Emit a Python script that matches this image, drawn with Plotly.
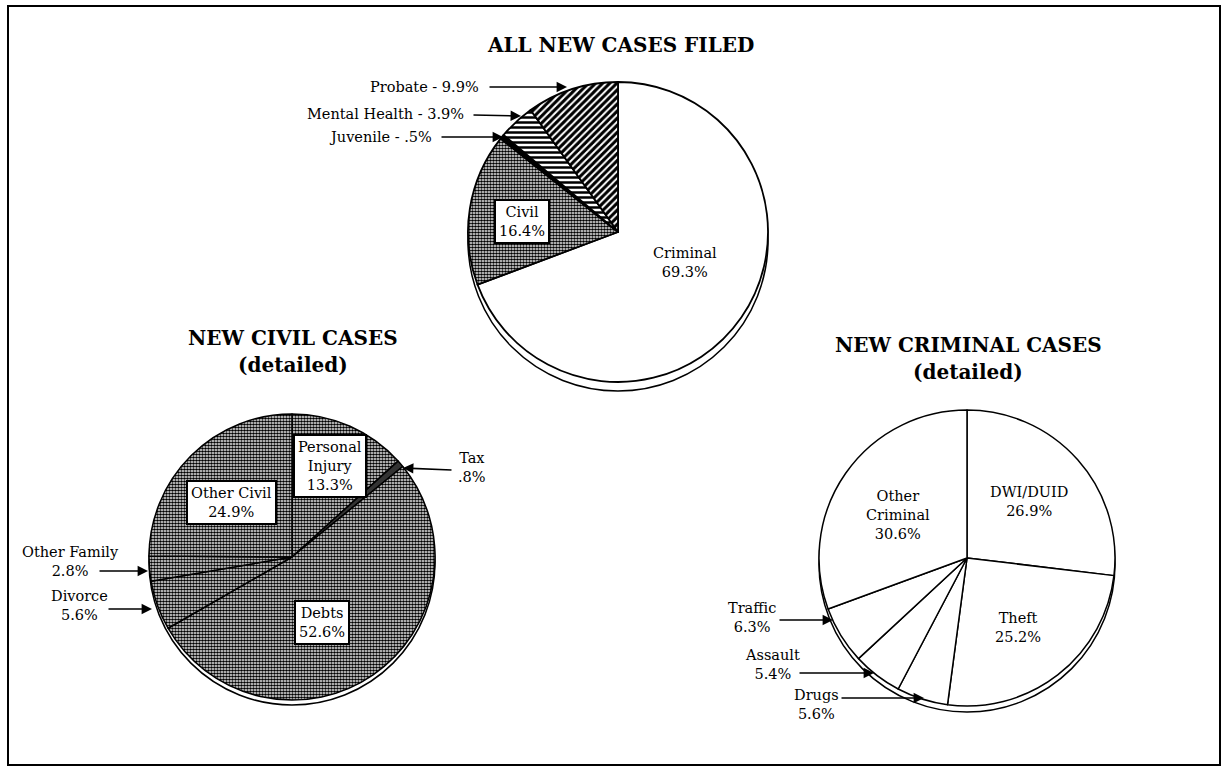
import plotly.graph_objects as go

W, H = 1227, 771

# ---- data ----
all_labels = ["Criminal", "Civil", "Juvenile", "Mental Health", "Probate"]
all_values = [69.3, 16.4, 0.5, 3.9, 9.9]

civil_labels = ["Personal Injury", "Tax", "Debts", "Divorce", "Other Family", "Other Civil"]
civil_values = [13.3, 0.8, 52.6, 5.6, 2.8, 24.9]

crim_labels = ["DWI/DUID", "Theft", "Drugs", "Assault", "Traffic", "Other Criminal"]
crim_values = [26.9, 25.2, 5.6, 5.4, 6.3, 30.6]


def px(x):
    return x / W


def py(y):
    return 1 - y / H


def dom(cx, cy, r, dy=0):
    return dict(x=[px(cx - r), px(cx + r)], y=[py(cy + r + dy), py(cy - r + dy)])


SERIF = "DejaVu Serif"
fig = go.Figure()

pies = [
    (618, 232, 150, 9),
    (292, 557, 143, 5),
    (967, 558, 148, 6),
]

# shadow rims
for cx, cy, r, off in pies:
    fig.add_trace(go.Pie(values=[1], labels=["rim"], domain=dom(cx, cy, r, off),
                         marker=dict(colors=["white"], line=dict(color="black", width=1.5)),
                         textinfo="none", hoverinfo="skip", sort=False, showlegend=False))

CHECK = dict(fgcolor="black", bgcolor="white", size=3, solidity=0.65)

fig.add_trace(go.Pie(
    labels=all_labels, values=all_values, domain=dom(618, 232, 150),
    sort=False, direction="clockwise", rotation=0, textinfo="none", showlegend=False,
    marker=dict(colors=["white", "white", "black", "white", "white"],
                line=dict(color="black", width=1.8),
                pattern=dict(shape=["", ".", "", "-", "/"], fgcolor="black",
                             size=[4, 3, 4, 5, 5], solidity=[0.5, 0.65, 0.5, 0.5, 0.6])),
))

fig.add_trace(go.Pie(
    labels=civil_labels, values=civil_values, domain=dom(292, 557, 143),
    sort=False, direction="clockwise", rotation=0, textinfo="none", showlegend=False,
    marker=dict(colors=["white", "#333333", "white", "white", "white", "white"],
                line=dict(color="black", width=1.5),
                pattern=dict(shape=[".", "", ".", ".", ".", "."], **CHECK)),
))

fig.add_trace(go.Pie(
    labels=crim_labels, values=crim_values, domain=dom(967, 558, 148),
    sort=False, direction="clockwise", rotation=0, textinfo="none", showlegend=False,
    marker=dict(colors=["white"] * 6, line=dict(color="black", width=1.5)),
))

ann = []


def text(x, y, t, size=14.5, bold=False, anchor="center", box=False):
    d = dict(x=px(x), y=py(y), xref="paper", yref="paper", text=t, showarrow=False,
             xanchor=anchor, yanchor="middle",
             font=dict(family=SERIF, size=size, color="black"))
    if bold:
        d["text"] = "<b>" + t + "</b>"
    if box:
        d.update(bordercolor="black", borderwidth=2, bgcolor="white", borderpad=3)
    ann.append(d)


def arrow(x0, y0, x1, y1):
    ann.append(dict(x=px(x1), y=py(y1), xref="paper", yref="paper", text="",
                    showarrow=True, ax=x0 - x1, ay=y0 - y1, axref="pixel", ayref="pixel",
                    arrowhead=2, arrowsize=1.3, arrowwidth=1.6, arrowcolor="black"))


def pct(v):
    s = f"{v}%"
    return s[1:] if s.startswith("0.") else s


# titles
text(620, 45, "ALL NEW CASES FILED", 20, True)
text(293, 338, "NEW CIVIL CASES", 20, True)
text(293, 365, "(detailed)", 20, True)
text(968, 345, "NEW CRIMINAL CASES", 20, True)
text(968, 372, "(detailed)", 20, True)

# top pie labels
text(685, 262, f"{all_labels[0]}<br>{pct(all_values[0])}")
text(522, 222, f"{all_labels[1]}<br>{pct(all_values[1])}", box=True)
text(481, 87, f"{all_labels[4]} - {pct(all_values[4])}", anchor="right")
arrow(488, 87, 567, 87)
text(466, 114, f"{all_labels[3]} - {pct(all_values[3])}", anchor="right")
arrow(472, 115, 521, 116)
text(434, 137, f"{all_labels[2]} - {pct(all_values[2])}", anchor="right")
arrow(440, 137, 503, 137)

# civil pie labels
text(330, 466, "Personal<br>Injury<br>" + pct(civil_values[0]), box=True)
text(231, 502, f"{civil_labels[5]}<br>{pct(civil_values[5])}", box=True)
text(322, 622, f"{civil_labels[2]}<br>{pct(civil_values[2])}", box=True)
text(472, 468, f"{civil_labels[1]}<br>{pct(civil_values[1])}")
arrow(453, 470, 403, 468)
text(70, 561, f"{civil_labels[4]}<br>{pct(civil_values[4])}")
arrow(98, 571, 148, 571)
text(79, 605, f"{civil_labels[3]}<br>{pct(civil_values[3])}")
arrow(107, 609, 152, 609)

# criminal pie labels
text(898, 515, "Other<br>Criminal<br>" + pct(crim_values[5]))
text(1029, 501, f"{crim_labels[0]}<br>{pct(crim_values[0])}")
text(1018, 627, f"{crim_labels[1]}<br>{pct(crim_values[1])}")
text(752, 617, f"{crim_labels[4]}<br>{pct(crim_values[4])}")
arrow(778, 620, 833, 620)
text(772, 664, f"{crim_labels[3]}<br>{pct(crim_values[3])}")
arrow(798, 673, 874, 673)
text(816, 704, f"{crim_labels[2]}<br>{pct(crim_values[2])}")
arrow(840, 698, 924, 698)

fig.update_layout(
    width=W, height=H, margin=dict(l=0, r=0, t=0, b=0),
    paper_bgcolor="white", plot_bgcolor="white",
    annotations=ann,
    shapes=[dict(type="rect", xref="paper", yref="paper",
                 x0=px(8), x1=px(1220), y0=py(765), y1=py(6),
                 line=dict(color="black", width=2))],
)

fig.write_html("out.html", config={"displayModeBar": False},
               post_script="document.body.style.margin='0px';document.body.style.overflow='hidden';")
